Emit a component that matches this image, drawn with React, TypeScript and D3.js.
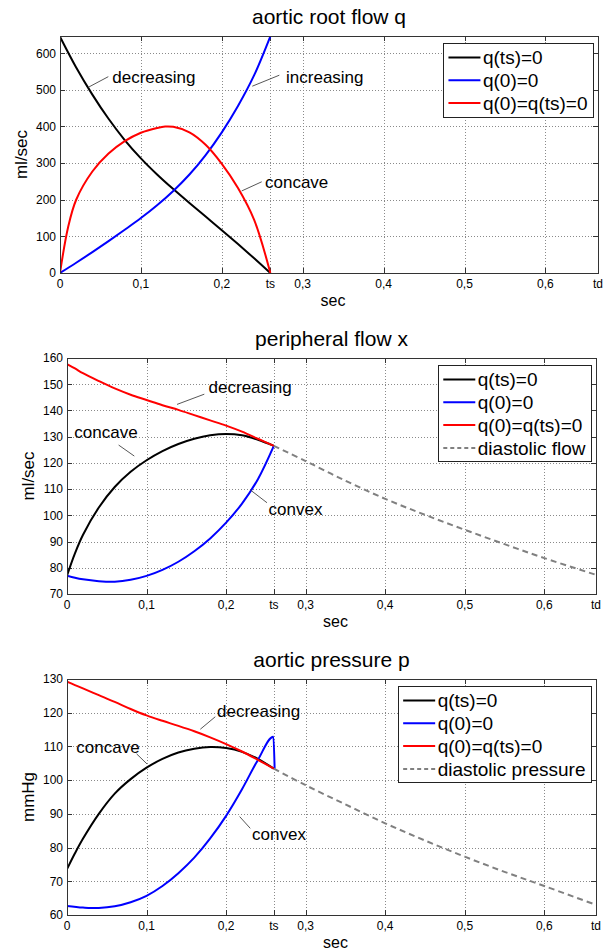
import * as d3 from "d3";
import { useRef, useEffect } from "react";

// shared time marks (sec)
const TS = 0.26;
const TD = 0.665;
const xTickValues = [0, 0.1, 0.2, TS, 0.3, 0.4, 0.5, 0.6, TD];
const xTickLabels = ["0", "0,1", "0,2", "ts", "0,3", "0,4", "0,5", "0,6", "td"];

// panel 1: aortic root flow q (ml/sec)
const rootT = [0, 0.02, 0.04, 0.06, 0.08, 0.10, 0.12, 0.14, 0.16, 0.18, 0.20, 0.22, 0.24, 0.26];
const rootBlack = [645, 561, 487, 421, 363, 313, 269, 229, 191, 154, 117, 79, 40, 0];
const rootBlue = [0, 28, 57, 87, 118, 150, 185, 224, 269, 322, 384, 456, 540, 646];
const rootRedT = [0, 0.01, 0.02, 0.04, 0.06, 0.08, 0.10, 0.12, 0.13, 0.14, 0.16, 0.18, 0.20, 0.22, 0.24, 0.26];
const rootRed = [0, 125, 200, 277, 326, 360, 383, 396, 400, 399, 384, 350, 298, 232, 145, 0];
const rootYTicks = [0, 100, 200, 300, 400, 500, 600];

// panel 2: peripheral flow x (ml/sec)
const perT = [0, 0.01, 0.02, 0.04, 0.06, 0.08, 0.10, 0.12, 0.14, 0.16, 0.18, 0.20, 0.22, 0.24, 0.26];
const perBlack = [77, 85.5, 92.5, 103, 110.8, 116.6, 121, 124.5, 127.2, 129.2, 130.5, 131, 130.5, 128.8, 126.5];
const perBlue = [77, 76.2, 75.6, 74.9, 74.7, 75.4, 76.9, 79.2, 82.3, 86.3, 91.2, 97.2, 104.5, 113.8, 126.5];
const perRed = [157.7, 156, 154.2, 151.2, 148.4, 146, 144, 142, 140.2, 138.2, 136.2, 134.2, 131.9, 129.2, 126.5];
const perDiaT = [0.26, 0.3, 0.35, 0.4, 0.45, 0.5, 0.55, 0.6, 0.665];
const perDia = [126.5, 120.7, 113.2, 106.3, 100.2, 94.5, 89, 83.7, 77.3];
const perYTicks = [70, 80, 90, 100, 110, 120, 130, 140, 150, 160];

// panel 3: aortic pressure p (mmHg)
const presT = perT;
const presBlack = [73.6, 78.3, 82.6, 90, 96, 100.3, 103.7, 106.3, 108.2, 109.3, 109.8, 109.5, 108.4, 106.3, 103.4];
const presRed = [129.2, 128.2, 127.2, 125.2, 123.2, 121.1, 119.2, 117.6, 116.1, 114.5, 112.7, 110.7, 108.5, 106, 103.4];
const presBlueT = [0, 0.02, 0.03, 0.04, 0.06, 0.08, 0.10, 0.12, 0.14, 0.16, 0.18, 0.20, 0.22, 0.24, 0.2595, 0.261];
const presBlue = [62.7, 62.2, 62.05, 62.1, 62.6, 63.8, 65.7, 68.6, 72.4, 77, 82.7, 89.4, 97.3, 106, 112.9, 103.4];
const presDiaT = [0.26, 0.3, 0.35, 0.4, 0.45, 0.5, 0.55, 0.6, 0.665];
const presDia = [103.4, 98.5, 92.8, 87.2, 82.1, 77.3, 72.8, 68.6, 63];
const presYTicks = [60, 70, 80, 90, 100, 110, 120, 130];

const legendBase = ["q(ts)=0", "q(0)=0", "q(0)=q(ts)=0"];

const FONT = "Arial, 'Liberation Sans', Helvetica, sans-serif";

const zip = (ts, vs) => ts.map((t, i) => [t, vs[i]]);

const panels = [
  {
    title: "aortic root flow q", ylabel: "ml/sec",
    left: 60, right: 598, top: 36, bottom: 273,
    yDomain: [0, 647], yTicks: rootYTicks,
    series: [
      { pts: zip(rootT, rootBlack), color: "#000000" },
      { pts: zip(rootT, rootBlue), color: "#0000ff" },
      { pts: zip(rootRedT, rootRed), color: "#ff0000" },
    ],
    legend: legendBase,
    notes: [
      { text: "decreasing", at: [0.0646, 518], from: [0.035, 507], to: [0.0597, 536] },
      { text: "increasing", at: [0.2794, 519], from: [0.2377, 510], to: [0.2711, 540] },
      { text: "concave", at: [0.2534, 232], from: [0.2246, 224], to: [0.2493, 249] },
    ],
  },
  {
    title: "peripheral flow x", ylabel: "ml/sec",
    left: 67, right: 596, top: 358, bottom: 594,
    yDomain: [70, 160], yTicks: perYTicks,
    series: [
      { pts: zip(perT, perBlack), color: "#000000" },
      { pts: zip(perT, perBlue), color: "#0000ff" },
      { pts: zip(perT, perRed), color: "#ff0000" },
      { pts: zip(perDiaT, perDia), color: "#808080", dash: "6,4" },
    ],
    legend: [...legendBase, "diastolic flow"],
    notes: [
      { text: "decreasing", at: [0.178, 146.7], from: [0.1383, 142.3], to: [0.1726, 146.2] },
      { text: "concave", at: [0.0092, 129.5], from: [0.0649, 126.8], to: [0.0846, 122.6] },
      { text: "convex", at: [0.2534, 100.1], from: [0.2304, 109.7], to: [0.2514, 104.8] },
    ],
  },
  {
    title: "aortic pressure p", ylabel: "mmHg",
    left: 67, right: 596, top: 679, bottom: 915,
    yDomain: [60, 130], yTicks: presYTicks,
    series: [
      { pts: zip(presT, presBlack), color: "#000000" },
      { pts: zip(presBlueT, presBlue), color: "#0000ff", sharp: true },
      { pts: zip(presT, presRed), color: "#ff0000" },
      { pts: zip(presDiaT, presDia), color: "#808080", dash: "6,4" },
    ],
    legend: [...legendBase, "diastolic pressure"],
    notes: [
      { text: "decreasing", at: [0.1886, 118.6], from: [0.1676, 115.1], to: [0.1864, 118.8] },
      { text: "concave", at: [0.0117, 108.1], from: [0.0875, 107.8], to: [0.1006, 104.8] },
      { text: "convex", at: [0.2326, 82.2], from: [0.217, 89.2], to: [0.2304, 85.7] },
    ],
  },
];

function drawPanel(svg, p, idx) {
  const x = d3.scaleLinear().domain([0, TD]).range([p.left, p.right]);
  const y = d3.scaleLinear().domain(p.yDomain).range([p.bottom, p.top]);
  const px = v => Math.round(x(v)) + 0.5;
  const py = v => Math.round(y(v)) + 0.5;
  const g = svg.append("g");

  // dotted grid
  g.selectAll(".vg").data(xTickValues.filter(v => v > 0 && v < TD)).enter().append("line")
    .attr("x1", px).attr("x2", px).attr("y1", p.top).attr("y2", p.bottom)
    .attr("stroke", "#8a8a8a").attr("stroke-dasharray", "1,2");
  g.selectAll(".hg").data(p.yTicks.filter(v => v > p.yDomain[0] && v < p.yDomain[1])).enter().append("line")
    .attr("x1", p.left).attr("x2", p.right).attr("y1", py).attr("y2", py)
    .attr("stroke", "#8a8a8a").attr("stroke-dasharray", "1,2");

  // inward ticks on all sides
  const tl = 5;
  g.selectAll(".xt").data(xTickValues).enter().append("path")
    .attr("d", v => `M${px(v)},${p.bottom}v${-tl}M${px(v)},${p.top}v${tl}`)
    .attr("stroke", "#333");
  g.selectAll(".yt").data(p.yTicks).enter().append("path")
    .attr("d", v => `M${p.left},${py(v)}h${tl}M${p.right},${py(v)}h${-tl}`)
    .attr("stroke", "#333");

  // curves
  const clipId = `clip${idx}`;
  svg.append("clipPath").attr("id", clipId).append("rect")
    .attr("x", p.left).attr("y", p.top - 1).attr("width", p.right - p.left).attr("height", p.bottom - p.top + 2);
  const smooth = d3.line().x(d => x(d[0])).y(d => y(d[1])).curve(d3.curveCatmullRom.alpha(0.5));
  const sharp = d3.line().x(d => x(d[0])).y(d => y(d[1])).curve(d3.curveMonotoneX);
  g.append("g").attr("clip-path", `url(#${clipId})`).selectAll("path").data(p.series).enter().append("path")
    .attr("d", s => (s.sharp ? sharp : smooth)(s.pts)).attr("fill", "none")
    .attr("stroke", s => s.color).attr("stroke-width", 2)
    .attr("stroke-dasharray", s => s.dash || null);

  // frame
  g.append("rect").attr("x", p.left + 0.5).attr("y", p.top + 0.5)
    .attr("width", p.right - p.left).attr("height", p.bottom - p.top)
    .attr("fill", "none").attr("stroke", "#333");

  // tick labels
  g.selectAll(".xl").data(xTickValues).enter().append("text")
    .attr("x", v => x(v)).attr("y", p.bottom + 15).attr("text-anchor", "middle")
    .style("font-size", "12px").text((v, i) => xTickLabels[i]);
  g.selectAll(".yl").data(p.yTicks).enter().append("text")
    .attr("x", p.left - 4).attr("y", v => y(v)).attr("dy", "0.36em").attr("text-anchor", "end")
    .style("font-size", "12px").text(v => v);

  // annotations with leader lines
  p.notes.forEach(n => {
    g.append("line").attr("x1", x(n.from[0])).attr("y1", y(n.from[1]))
      .attr("x2", x(n.to[0])).attr("y2", y(n.to[1])).attr("stroke", "#444").attr("stroke-width", 0.9);
    g.append("text").attr("x", x(n.at[0])).attr("y", y(n.at[1])).style("font-size", "17px").text(n.text);
  });

  // titles and axis labels
  g.append("text").attr("x", (p.left + p.right) / 2).attr("y", p.top - 12).attr("text-anchor", "middle")
    .style("font-size", "21px").text(p.title);
  g.append("text").attr("x", (p.left + p.right) / 2 + 4).attr("y", p.bottom + 33).attr("text-anchor", "middle")
    .style("font-size", "16px").text("sec");
  g.append("text").attr("transform", `translate(${p.left - 33},${(p.top + p.bottom) / 2}) rotate(-90)`)
    .attr("text-anchor", "middle").style("font-size", "17px").text(p.ylabel);

  // legend
  const lg = g.append("g");
  const box = lg.append("rect").attr("fill", "white").attr("stroke", "#222");
  const rowH = 22.8;
  const texts = p.legend.map((lbl, i) =>
    lg.append("text").attr("y", i * rowH).attr("dy", "0.35em").style("font-size", "19px").text(lbl));
  const maxW = d3.max(texts, t => t.node().getComputedTextLength());
  const w = 5 + 32 + 2.5 + maxW + 6;
  const bx = p.right - 4.5 - w;
  const by = p.top + 6.5;
  const r0 = by + 15;
  texts.forEach((t, i) => t.attr("x", bx + 5 + 32 + 2.5).attr("y", r0 + i * rowH));
  p.series.forEach((s, i) => {
    lg.append("line").attr("x1", bx + 5).attr("x2", bx + 37).attr("y1", r0 + i * rowH).attr("y2", r0 + i * rowH)
      .attr("stroke", s.color).attr("stroke-width", 2).attr("stroke-dasharray", s.dash ? "4,3" : null);
  });
  box.attr("x", Math.round(bx) + 0.5).attr("y", Math.round(by) + 0.5)
    .attr("width", Math.round(w)).attr("height", Math.round(15 + rowH * (p.legend.length - 1) + 13));
}

export default function App() {
  const svgRef = useRef(null);

  useEffect(() => {
    const svg = d3.select(svgRef.current);
    svg.selectAll("*").remove();
    svg.append("rect").attr("width", 611).attr("height", 950).attr("fill", "white");
    panels.forEach((p, i) => drawPanel(svg, p, i));
  }, []);

  return (
    <svg ref={svgRef} width={611} height={950}
      style={{ position: "absolute", left: 0, top: 0, fontFamily: FONT, fill: "#000" }} />
  );
}
